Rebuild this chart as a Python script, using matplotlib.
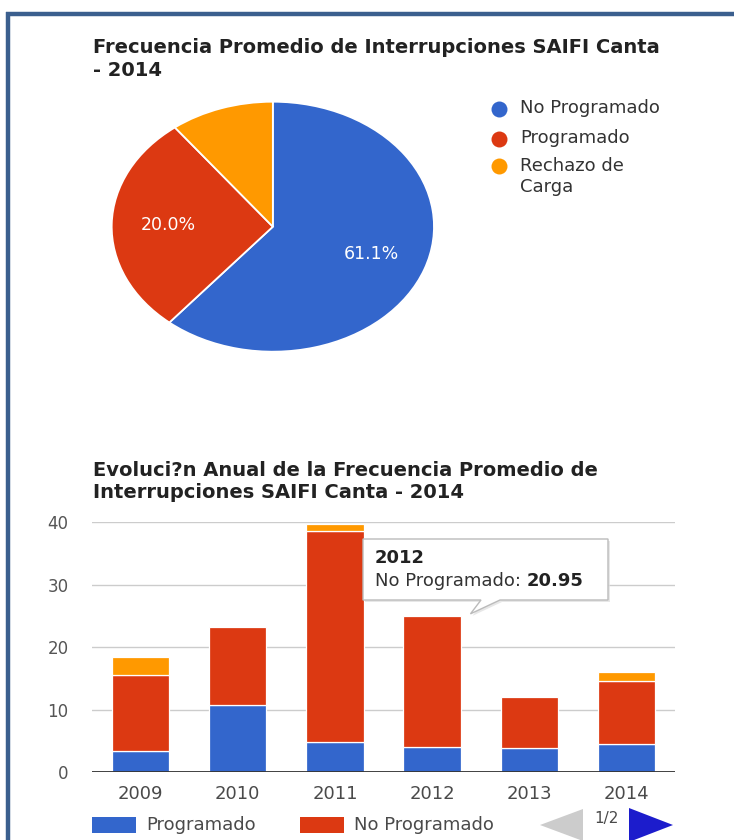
import matplotlib
matplotlib.use("Agg")
import matplotlib.pyplot as plt
from matplotlib.patches import Rectangle, Polygon
import numpy as np

# ---------------- data ----------------
pie_title = "Frecuencia Promedio de Interrupciones SAIFI Canta\n- 2014"
pie_categories = ["No Programado", "Programado", "Rechazo de\nCarga"]
pie_values = [61.1, 28.5, 10.4]
pie_labels = ["61.1%", "20.0%", ""]

bar_title = "Evoluci?n Anual de la Frecuencia Promedio de\nInterrupciones SAIFI Canta - 2014"
years = ["2009", "2010", "2011", "2012", "2013", "2014"]
programado = [3.4, 10.7, 4.8, 4.1, 3.9, 4.6]
no_programado = [12.1, 12.6, 33.8, 20.95, 8.1, 10.0]
rechazo = [2.9, 0.0, 1.2, 0.0, 0.0, 1.5]
yticks = [0, 10, 20, 30, 40]
bar_legend = ["Programado", "No Programado"]
tooltip_index = 3
page_text = "1/2"

BLUE = "#3366cc"
RED = "#dc3912"
ORANGE = "#ff9900"
pie_colors = [BLUE, RED, ORANGE]
TXT = "#222222"
AX = "#4a4a4a"

W, H = 734, 840
fig = plt.figure(figsize=(W / 100, H / 100), dpi=100)
fig.patch.set_facecolor("white")

def fx(px):
    return px / W

def fy(py):
    return 1 - py / H

# ---------------- pie ----------------
axp = fig.add_axes([fx(111.7), fy(351.7), fx(434) - fx(111.7), fy(101.7) - fy(351.7)])
wedges, texts = axp.pie(pie_values, colors=pie_colors, startangle=90, counterclock=False,
                        labels=pie_labels, labeldistance=0.65,
                        wedgeprops=dict(edgecolor="white", linewidth=1.3),
                        textprops=dict(color="white", fontsize=12.5))
for t in texts:
    t.set_ha("center")
    t.set_va("center")
axp.set_aspect("auto")
axp.set_xlim(-1.0, 1.0)
axp.set_ylim(-1.0, 1.0)
axp.axis("off")

# ---------------- bars ----------------
ax = fig.add_axes([fx(92), fy(772.3), fx(675) - fx(92), fy(522.3) - fy(772.3)])
x = np.arange(len(years))
p = np.array(programado)
n = np.array(no_programado)
r = np.array(rechazo)
bw = 0.59
ax.bar(x, p, bw, color=BLUE, edgecolor="white", linewidth=0.9, zorder=3)
ax.bar(x, n, bw, bottom=p, color=RED, edgecolor="white", linewidth=0.9, zorder=3)
ax.bar(x, r, bw, bottom=p + n, color=ORANGE, edgecolor="white", linewidth=0.9 * (r > 0), zorder=3)
ax.set_xlim(-0.5, len(years) - 0.5)
ax.set_ylim(0, 40)
ax.set_yticks(yticks)
ax.set_yticklabels([str(v) for v in yticks])
ax.set_xticks(x)
ax.set_xticklabels(years)
ax.grid(axis="y", color="#cccccc", linewidth=1, zorder=0)
ax.axhline(0, color="#333333", linewidth=1.3, zorder=4)
for s in ax.spines.values():
    s.set_visible(False)
ax.tick_params(axis="y", length=0, pad=17, labelsize=12, labelcolor="#555555")
ax.tick_params(axis="x", length=0, pad=9, labelsize=13, labelcolor=AX)

# ---------------- overlay ----------------
ov = fig.add_axes([0, 0, 1, 1], zorder=10)
ov.set_xlim(0, W)
ov.set_ylim(H, 0)
ov.axis("off")
ov.patch.set_alpha(0)

# frame
ov.plot([8, 8], [12, H], color="#3b5f8e", linewidth=3.2, solid_capstyle="butt")
ov.plot([6.4, W], [13.5, 13.5], color="#3b5f8e", linewidth=3.2, solid_capstyle="butt")

# titles
ov.text(93, 59, pie_title, fontsize=14, fontweight="bold", color=TXT, va="center",
        ha="left", linespacing=1.25)
ov.text(93, 482, bar_title, fontsize=14, fontweight="bold", color=TXT, va="center",
        ha="left", linespacing=1.2)

# pie legend
leg_y = [109, 139, 166]
for cat, col, yy in zip(pie_categories, pie_colors, leg_y):
    ov.plot(499, yy, "o", markersize=11.5, color=col, markeredgewidth=0)
    if "\n" in cat:
        ov.text(520, yy - 9, cat, fontsize=13, color="#333333", va="top",
                ha="left", linespacing=1.25)
    else:
        ov.text(520, yy - 1, cat, fontsize=13, color="#333333", va="center", ha="left")

# bar legend
leg_pos = [(92, 146), (300, 354)]
for lab, col, (rx, tx) in zip(bar_legend, [BLUE, RED], leg_pos):
    ov.add_patch(Rectangle((rx, 817), 44, 16, facecolor=col, edgecolor="none"))
    ov.text(tx, 825, lab, fontsize=13, color=AX, va="center", ha="left")

# page navigation
ov.add_patch(Polygon([(540, 825), (583, 809), (583, 841)], closed=True,
                     facecolor="#cccccc", edgecolor="none"))
ov.add_patch(Polygon([(629, 808), (629, 842), (673, 825)], closed=True,
                     facecolor="#1c1ccc", edgecolor="none"))
ov.text(606, 818, page_text, fontsize=11, color=AX, ha="center", va="center")

# tooltip, anchored to the hovered bar
fig.canvas.draw()
top = programado[tooltip_index] + no_programado[tooltip_index]
tip_disp = ax.transData.transform((tooltip_index + bw / 2 + 0.1, top + 0.3))
tip = ov.transData.inverted().transform(tip_disp)
bx0, by0, bx1, by1 = 363, 539, 608, 600
shape = [(bx0, by0), (bx1, by0), (bx1, by1), (500, by1), (tip[0], tip[1]),
         (481, by1), (bx0, by1)]
shadow = [(px + 2, py + 2) for px, py in shape]
ov.add_patch(Polygon(shadow, closed=True, facecolor="#dddddd", edgecolor="none", alpha=0.7))
ov.add_patch(Polygon(shape, closed=True, facecolor="white", edgecolor="#bbbbbb", linewidth=1))
ov.text(375, 558, years[tooltip_index], fontsize=13, fontweight="bold", color=TXT,
        va="center", ha="left")
t1 = ov.text(375, 581, "No Programado: ", fontsize=13, color="#333333", va="center", ha="left")
ov.annotate(f"{no_programado[tooltip_index]:.2f}", xy=(1, 0.5), xycoords=t1,
            fontsize=13, fontweight="bold", color=TXT, va="center", ha="left")

fig.savefig("out.png", dpi=100, facecolor="white")
